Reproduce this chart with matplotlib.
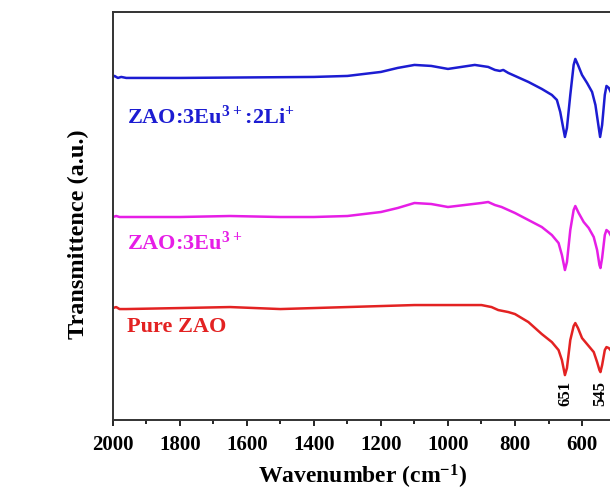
import numpy as np
import matplotlib
matplotlib.use("Agg")
import matplotlib.pyplot as plt
from matplotlib.ticker import MultipleLocator

plt.rcParams['font.family'] = ['Liberation Serif', 'DejaVu Serif']
plt.rcParams['font.weight'] = 'bold'
plt.rcParams['mathtext.fontset'] = 'custom'
plt.rcParams['mathtext.bf'] = 'Liberation Serif:bold'
plt.rcParams['mathtext.rm'] = 'Liberation Serif:bold'
plt.rcParams['mathtext.default'] = 'bf'

# wavenumbers (cm-1) and transmittance (a.u., offset traces)
wn_li = [2000, 1995, 1985, 1975, 1960, 1800, 1600, 1400, 1300, 1200, 1150, 1100, 1050, 1000, 960,
         920, 880, 860, 845, 835, 820, 800, 760, 720, 690, 675, 665, 655, 651, 645, 635, 625,
         620, 612, 600, 585, 570, 560, 550, 546, 540, 532, 527, 520, 510, 500, 480]
t_li = [343, 344, 342, 343, 342, 342, 342.5, 343, 344, 348, 352, 355, 354, 351, 353,
        355, 353, 350, 349, 350, 347, 344, 338, 331, 325, 320, 308, 290, 283, 292, 325, 355,
        361, 355, 345, 337, 328, 315, 292, 283, 295, 325, 334, 332, 325, 320, 315]

wn_eu = [2000, 1990, 1980, 1800, 1650, 1500, 1400, 1300, 1200, 1150, 1100, 1050, 1000, 950,
         900, 880, 860, 840, 800, 760, 720, 690, 670, 660, 651, 645, 635, 625, 620, 610, 595,
         580, 565, 555, 548, 545, 540, 532, 527, 520, 510, 480]
t_eu = [203, 204, 203, 203, 204, 203, 203, 204, 208, 212, 217, 216, 213, 215,
        217, 218, 215, 213, 207, 200, 193, 185, 177, 165, 150, 158, 190, 210, 214, 207, 198,
        192, 183, 170, 155, 152, 162, 185, 190, 188, 182, 175]

wn_pure = [2000, 1990, 1980, 1960, 1800, 1650, 1500, 1400, 1200, 1100, 1000, 900, 870, 850,
           820, 800, 760, 720, 690, 670, 660, 651, 645, 635, 625, 620, 612, 600, 585, 575, 565,
           555, 548, 545, 540, 532, 527, 520, 510, 480]
t_pure = [112, 113, 111, 111, 112, 113, 111, 112, 114, 115, 115, 115, 113, 110,
          108, 106, 98, 86, 78, 70, 60, 45, 52, 80, 94, 97, 92, 82, 76, 72, 68,
          58, 50, 48, 55, 70, 73, 72, 68, 62]

labels = [r'ZAO:3Eu$^{3+}$:2Li$^{+}$', r'ZAO:3Eu$^{3+}$', 'Pure ZAO']
colors = ['#1c1cd2', '#e61ee6', '#e32222']
label_y = [303, 177, 93]
peaks = [651, 545]
xticks = [2000, 1800, 1600, 1400, 1200, 1000, 800, 600]

fig = plt.figure(figsize=(6.10, 4.96), dpi=100)
ax = fig.add_axes([0.185, 0.153, 0.879, 0.823])

for wn, t, c in zip([wn_li, wn_eu, wn_pure], [t_li, t_eu, t_pure], colors):
    ax.plot(wn, t, color=c, lw=1.8)

for lab, c, y in zip(labels, colors, label_y):
    ax.text(1958, y, lab, color=c, fontsize=16, fontweight='bold', ha='left', va='center')

for p in peaks:
    ax.text(p, 27, str(p), rotation=90, fontsize=12, fontweight='bold', ha='center', va='center')

ax.set_xlim(2000, 400)
ax.set_ylim(0, 408)
ax.set_xticks(xticks)
ax.xaxis.set_minor_locator(MultipleLocator(100))
ax.set_yticks([])
ax.tick_params(axis='x', which='major', direction='out', length=4, width=1.2, labelsize=15, pad=7)
ax.tick_params(axis='x', which='minor', direction='out', length=3, width=1.2)
for lbl in ax.get_xticklabels():
    lbl.set_fontweight('bold')
for s in ax.spines.values():
    s.set_linewidth(1.4)
    s.set_color('#333333')

ax.set_xlabel(r'Wavenumber (cm$^{-1}$)', fontsize=17, fontweight='bold')
ax.set_ylabel('Transmittence (a.u.)', fontsize=17.5, fontweight='bold')
ax.xaxis.set_label_coords(0.465, -0.105)
ax.yaxis.set_label_coords(-0.045, 0.455)

fig.savefig('out.png', dpi=100)
